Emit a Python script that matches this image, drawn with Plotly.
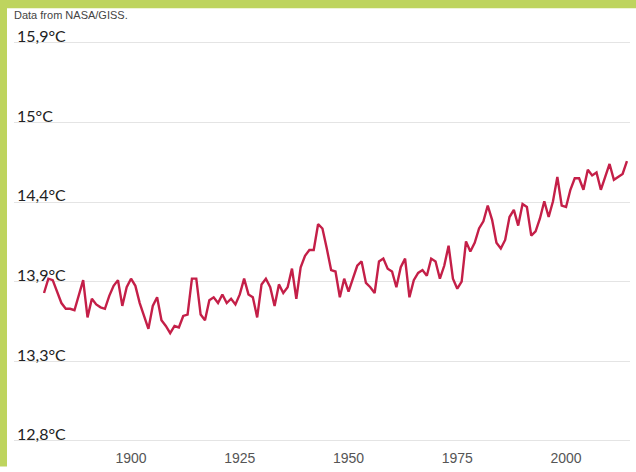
import plotly.graph_objects as go

years = list(range(1880, 2015))
temps_c = [
    13.81, 13.91, 13.90, 13.82, 13.74, 13.70, 13.70, 13.69, 13.80, 13.90,
    13.64, 13.77, 13.73, 13.71, 13.70, 13.79, 13.86, 13.90, 13.72, 13.85,
    13.91, 13.86, 13.74, 13.65, 13.56, 13.72, 13.78, 13.62, 13.58, 13.53,
    13.58, 13.57, 13.65, 13.66, 13.91, 13.91, 13.66, 13.62, 13.76, 13.78,
    13.74, 13.80, 13.74, 13.77, 13.73, 13.80, 13.91, 13.80, 13.78, 13.64,
    13.87, 13.91, 13.85, 13.72, 13.87, 13.81, 13.85, 13.98, 13.77, 13.99,
    14.07, 14.11, 14.11, 14.29, 14.26, 14.12, 13.97, 13.96, 13.78, 13.91,
    13.82, 13.91, 14.00, 14.03, 13.88, 13.85, 13.81, 14.03, 14.05, 13.98,
    13.96, 13.85, 13.99, 14.05, 13.78, 13.90, 13.95, 13.97, 13.93, 14.05,
    14.03, 13.91, 14.00, 14.14, 13.91, 13.84, 13.89, 14.17, 14.10, 14.16,
    14.26, 14.31, 14.42, 14.32, 14.16, 14.12, 14.18, 14.34, 14.39, 14.28,
    14.43, 14.41, 14.21, 14.24, 14.33, 14.45, 14.34, 14.45, 14.62, 14.42,
    14.41, 14.53, 14.61, 14.61, 14.53, 14.67, 14.63, 14.65, 14.53, 14.62,
    14.71, 14.60, 14.62, 14.64, 14.73,
]

# gridlines sit at whole degrees Fahrenheit (55..60 °F), labelled in °C
ytick_vals = [12.778, 13.333, 13.889, 14.444, 15.0, 15.556]
ytick_text = ["12,8°C", "13,3°C", "13,9°C", "14,4°C", "15°C", "15,9°C"]
xtick_vals = [1900, 1925, 1950, 1975, 2000]
source_text = "Data from NASA/GISS."

W, H = 636, 472
ML, MR, MT, MB = 14, 6, 25, 22
PW, PH = W - ML - MR, H - MT - MB

def px_to_paper_x(px):
    return (px - ML) / PW

def px_to_paper_y(py):
    return (H - MB - py) / PH

green = "#BED45E"

fig = go.Figure()
fig.add_trace(go.Scatter(
    x=years, y=temps_c, mode="lines",
    line=dict(color="#C41F48", width=2.4),
    hoverinfo="x+y", showlegend=False,
))

shapes = [
    # green frame, left and top
    dict(type="rect", xref="paper", yref="paper",
         x0=px_to_paper_x(-2), x1=px_to_paper_x(7),
         y0=px_to_paper_y(H + 2), y1=px_to_paper_y(-2),
         fillcolor=green, line=dict(width=0), layer="above"),
    dict(type="rect", xref="paper", yref="paper",
         x0=px_to_paper_x(-2), x1=px_to_paper_x(W + 2),
         y0=px_to_paper_y(8), y1=px_to_paper_y(-2),
         fillcolor=green, line=dict(width=0), layer="above"),
    # hide gridlines behind the y labels
    dict(type="rect", xref="paper", yref="paper",
         x0=0, x1=px_to_paper_x(62), y0=0, y1=1,
         fillcolor="white", line=dict(width=0), layer="between"),
]

fig.update_layout(
    width=W, height=H,
    margin=dict(l=ML, r=MR, t=MT, b=MB, pad=0),
    paper_bgcolor="white", plot_bgcolor="white",
    shapes=shapes,
    annotations=[dict(
        text=source_text, xref="paper", yref="paper",
        x=px_to_paper_x(12), y=px_to_paper_y(15),
        xanchor="left", yanchor="middle", showarrow=False,
        font=dict(family="Liberation Sans, Arial, sans-serif", size=11, color="#444"),
    )],
    xaxis=dict(
        range=[1873.1, 2014.7], tickvals=xtick_vals,
        showgrid=False, zeroline=False, showline=False, ticks="",
        ticklabelstandoff=5,
        tickfont=dict(family="Liberation Sans, Arial, sans-serif", size=14, color="#555"),
    ),
    yaxis=dict(
        range=[12.764, 15.679], tickvals=ytick_vals, ticktext=ytick_text,
        ticklabelposition="inside top", ticklabeloverflow="allow",
        ticklabelshift=5,
        showgrid=True, gridcolor="#e4e4e4", gridwidth=1,
        zeroline=False, showline=False, ticks="",
        tickfont=dict(family="Lato, sans-serif", size=16, color="#222"),
    ),
)

pin_script = (
    "var d=document.getElementById('{plot_id}');"
    "d.style.position='fixed';d.style.left='0px';d.style.top='0px';"
    "document.body.style.margin='0';"
    "document.documentElement.style.overflow='hidden';"
    "document.body.style.overflow='hidden';"
)

fig.write_html(
    "out.html",
    config={"displayModeBar": False},
    post_script=pin_script,
)
